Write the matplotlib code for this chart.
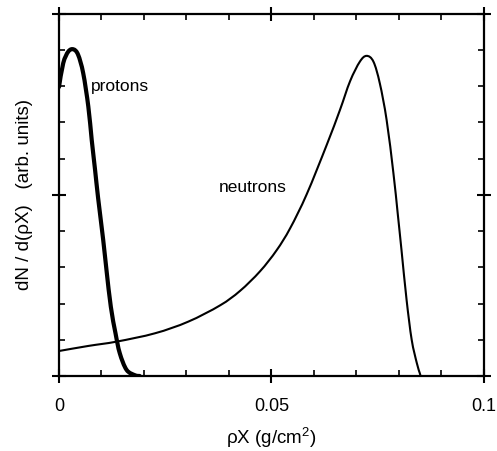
import numpy as np
import matplotlib.pyplot as plt
from matplotlib.path import Path
from matplotlib.patches import PathPatch
from matplotlib.ticker import MultipleLocator

plt.rcParams['font.family'] = ['Liberation Sans', 'DejaVu Sans']
plt.rcParams['mathtext.fontset'] = 'custom'
plt.rcParams['mathtext.rm'] = 'Liberation Sans'

# proton distribution
p_x = [0.0, 0.001, 0.0022, 0.0034, 0.0045, 0.0057, 0.0069, 0.0077, 0.0085, 0.0092,
       0.0104, 0.0112, 0.0122, 0.0133, 0.0143, 0.0159, 0.0179, 0.019]
p_y = [0.798, 0.864, 0.896, 0.902, 0.887, 0.836, 0.744, 0.652, 0.568, 0.492,
       0.376, 0.290, 0.191, 0.118, 0.063, 0.017, 0.002, 0.0]

# neutron distribution
n_x = [0.0, 0.0069, 0.0136, 0.0226, 0.0304, 0.0379, 0.0426, 0.0473, 0.0512, 0.0544,
       0.0583, 0.063, 0.0661, 0.0685, 0.0708, 0.0724, 0.074, 0.0755, 0.0771,
       0.0787, 0.0797, 0.0806, 0.0818, 0.083, 0.0842, 0.0849, 0.0851]
n_y = [0.069, 0.083, 0.095, 0.118, 0.150, 0.195, 0.235, 0.289, 0.347, 0.408,
       0.502, 0.638, 0.734, 0.814, 0.868, 0.884, 0.868, 0.808, 0.707,
       0.560, 0.450, 0.348, 0.210, 0.100, 0.036, 0.008, 0.0]


def smooth_path(xs, ys):
    # draw through the read points with Catmull-Rom style bezier segments
    pts = np.column_stack([xs, ys])
    verts = [pts[0]]
    codes = [Path.MOVETO]
    n = len(pts)
    for i in range(n - 1):
        p0 = pts[max(i - 1, 0)]
        p1 = pts[i]
        p2 = pts[i + 1]
        p3 = pts[min(i + 2, n - 1)]
        c1 = p1 + (p2 - p0) / 6.0
        c2 = p2 - (p3 - p1) / 6.0
        verts += [c1, c2, p2]
        codes += [Path.CURVE4] * 3
    return Path(verts, codes)


fig = plt.figure(figsize=(4.97, 4.51), dpi=100)
ax = fig.add_axes([0.1187, 0.1663, 0.855, 0.803])

ax.add_patch(PathPatch(smooth_path(p_x, p_y), fill=False, edgecolor='black',
                       lw=3.0, capstyle='round', joinstyle='round'))
ax.add_patch(PathPatch(smooth_path(n_x, n_y), fill=False, edgecolor='black',
                       lw=1.5, joinstyle='round'))

ax.text(0.0075, 0.80, 'protons', fontsize=12.5, va='center')
ax.text(0.0375, 0.52, 'neutrons', fontsize=12.5, va='center')

ax.set_xlim(0, 0.1)
ax.set_ylim(0, 1)
ax.xaxis.set_major_locator(MultipleLocator(0.05))
ax.xaxis.set_minor_locator(MultipleLocator(0.01))
ax.yaxis.set_major_locator(MultipleLocator(0.5))
ax.yaxis.set_minor_locator(MultipleLocator(0.1))
ax.xaxis.set_major_formatter(plt.FuncFormatter(lambda v, p: '%g' % round(v, 3)))
ax.tick_params(which='major', direction='inout', length=10, width=1.5,
               top=True, right=True, labelsize=13, pad=11)
ax.tick_params(which='minor', direction='in', length=4, width=1.2,
               top=True, right=True)
ax.tick_params(axis='y', labelleft=False)
for s in ax.spines.values():
    s.set_linewidth(1.6)

ax.set_xlabel('ρX (g/cm$^2$)', fontsize=13.5, labelpad=7)
ax.set_ylabel('dN / d(ρX)   (arb. units)', fontsize=13.5, labelpad=14)

fig.savefig('out.png', dpi=100)
